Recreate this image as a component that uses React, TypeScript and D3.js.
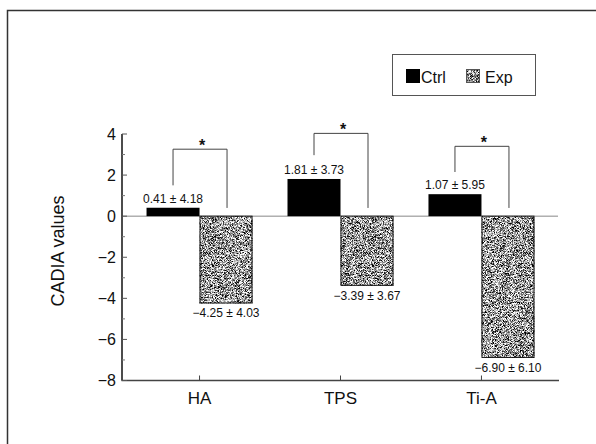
import React, { useEffect, useRef } from 'react';
import * as d3 from 'd3';

// Groups and series (CADIA values, mean ± SD)
const categories = ['HA', 'TPS', 'Ti-A'];
const ctrlMeans = [0.41, 1.81, 1.07];
const ctrlSD = [4.18, 3.73, 5.95];
const expMeans = [-4.25, -3.39, -6.9];
const expSD = [4.03, 3.67, 6.1];

// Significance brackets (in data units)
const bracketTop = [3.26, 4.03, 3.4];
const bracketLeftEnd = [1.5, 2.97, 2.15];
const bracketRightEnd = [0.4, 0.4, 0.4];

const yMajorTicks = [-8, -6, -4, -2, 0, 2, 4];
const yMinorTicks = [-7, -5, -3, -1, 1, 3];

const FONT = "'Liberation Sans', Arial, Helvetica, sans-serif";

const fmt = (v: number) => d3.format('.2f')(v);

const App = () => {
  const ref = useRef<SVGSVGElement>(null);

  useEffect(() => {
    const svg = d3.select(ref.current);
    svg.selectAll('*').remove();

    // Speckle texture for the Exp bars
    const defs = svg.append('defs');
    const filter = defs.append('filter')
      .attr('id', 'noise')
      .attr('x', 0).attr('y', 0).attr('width', '100%').attr('height', '100%')
      .attr('color-interpolation-filters', 'sRGB');
    filter.append('feTurbulence')
      .attr('type', 'fractalNoise')
      .attr('baseFrequency', 1.6)
      .attr('numOctaves', 2)
      .attr('seed', 7)
      .attr('result', 'n');
    filter.append('feColorMatrix')
      .attr('in', 'n')
      .attr('type', 'matrix')
      .attr('values', '3 0 0 0 -0.9  3 0 0 0 -0.9  3 0 0 0 -0.9  0 0 0 0 1')
      .attr('result', 'g');
    filter.append('feComposite')
      .attr('in', 'g').attr('in2', 'SourceGraphic').attr('operator', 'in');

    // Scales
    const x = d3.scaleBand<string>()
      .domain(categories)
      .range([122, 559])
      .paddingOuter(0.05)
      .paddingInner(0);
    const sub = d3.scaleBand<string>()
      .domain(['ctrl', 'exp'])
      .range([-53, 53]);
    const y = d3.scaleLinear().domain([-8, 4]).range([380.5, 134]);
    const cx = (c: string) => (x(c) as number) + x.bandwidth() / 2;

    // Figure frame (top and left visible)
    svg.append('path')
      .attr('d', 'M7.5,444 L7.5,10.5 L596,10.5')
      .attr('fill', 'none')
      .attr('stroke', '#333')
      .attr('stroke-width', 1.5);

    // Zero line
    svg.append('line')
      .attr('x1', 122).attr('x2', 558)
      .attr('y1', y(0)).attr('y2', y(0))
      .attr('stroke', '#888').attr('stroke-width', 1);

    // Ctrl bars
    svg.append('g')
      .selectAll('rect')
      .data(categories)
      .join('rect')
      .attr('x', (c) => cx(c) + (sub('ctrl') as number))
      .attr('width', sub.bandwidth())
      .attr('y', (c, i) => y(Math.max(0, ctrlMeans[i])))
      .attr('height', (c, i) => Math.abs(y(ctrlMeans[i]) - y(0)))
      .attr('fill', '#000');

    // Exp bars (texture + outline)
    const expG = svg.append('g');
    expG.selectAll('rect.tex')
      .data(categories)
      .join('rect')
      .attr('class', 'tex')
      .attr('x', (c) => cx(c) + (sub('exp') as number))
      .attr('width', sub.bandwidth())
      .attr('y', (c, i) => y(Math.max(0, expMeans[i])))
      .attr('height', (c, i) => Math.abs(y(expMeans[i]) - y(0)))
      .attr('fill', '#888')
      .attr('filter', 'url(#noise)');
    expG.selectAll('rect.out')
      .data(categories)
      .join('rect')
      .attr('class', 'out')
      .attr('x', (c) => cx(c) + (sub('exp') as number) + 0.5)
      .attr('width', sub.bandwidth() - 1)
      .attr('y', (c, i) => y(Math.max(0, expMeans[i])))
      .attr('height', (c, i) => Math.abs(y(expMeans[i]) - y(0)) - 0.5)
      .attr('fill', 'none')
      .attr('stroke', '#111')
      .attr('stroke-width', 1);

    // Axes
    svg.append('line')
      .attr('x1', 122).attr('x2', 122)
      .attr('y1', y(4)).attr('y2', y(-8))
      .attr('stroke', '#111').attr('stroke-width', 1.5);
    svg.append('line')
      .attr('x1', 121.5).attr('x2', 559)
      .attr('y1', y(-8)).attr('y2', y(-8))
      .attr('stroke', '#444').attr('stroke-width', 1.5);

    svg.append('g')
      .selectAll('line')
      .data(yMajorTicks)
      .join('line')
      .attr('x1', 122).attr('x2', 127)
      .attr('y1', (d) => y(d)).attr('y2', (d) => y(d))
      .attr('stroke', '#555').attr('stroke-width', 1);
    svg.append('g')
      .selectAll('line')
      .data(yMinorTicks)
      .join('line')
      .attr('x1', 122).attr('x2', 125)
      .attr('y1', (d) => y(d)).attr('y2', (d) => y(d))
      .attr('stroke', '#777').attr('stroke-width', 1);

    svg.append('g')
      .selectAll('text')
      .data(yMajorTicks)
      .join('text')
      .attr('x', 116)
      .attr('y', (d) => y(d))
      .attr('dy', '0.36em')
      .attr('text-anchor', 'end')
      .attr('font-family', FONT)
      .attr('font-size', 16)
      .attr('fill', '#111')
      .text((d) => d3.format('d')(d));

    svg.append('text')
      .attr('transform', `translate(64,${y(-1.7)}) rotate(-90)`)
      .attr('text-anchor', 'middle')
      .attr('font-family', FONT)
      .attr('font-size', 18)
      .attr('fill', '#111')
      .text('CADIA values');

    // X ticks & labels
    svg.append('g')
      .selectAll('line')
      .data(categories)
      .join('line')
      .attr('x1', (c) => cx(c)).attr('x2', (c) => cx(c))
      .attr('y1', y(-8)).attr('y2', y(-8) - 5)
      .attr('stroke', '#444').attr('stroke-width', 1);
    svg.append('g')
      .selectAll('text')
      .data(categories)
      .join('text')
      .attr('x', (c) => cx(c))
      .attr('y', 404)
      .attr('text-anchor', 'middle')
      .attr('font-family', FONT)
      .attr('font-size', 17)
      .attr('fill', '#111')
      .text((c) => c);

    // Value labels
    svg.append('g')
      .selectAll('text')
      .data(categories)
      .join('text')
      .attr('x', (c) => cx(c) + (sub('ctrl') as number) + sub.bandwidth() / 2)
      .attr('y', (c, i) => y(ctrlMeans[i]) - 5)
      .attr('text-anchor', 'middle')
      .attr('font-family', FONT)
      .attr('font-size', 12)
      .attr('fill', '#111')
      .text((c, i) => `${fmt(ctrlMeans[i])} \u00b1 ${fmt(ctrlSD[i])}`);
    svg.append('g')
      .selectAll('text')
      .data(categories)
      .join('text')
      .attr('x', (c) => cx(c) + (sub('exp') as number) + sub.bandwidth() / 2)
      .attr('y', (c, i) => y(expMeans[i]) + 14)
      .attr('text-anchor', 'middle')
      .attr('font-family', FONT)
      .attr('font-size', 12)
      .attr('fill', '#111')
      .text((c, i) => `${fmt(expMeans[i])} \u00b1 ${fmt(expSD[i])}`);

    // Significance brackets
    const bx1 = (c: string) => cx(c) + (sub('ctrl') as number) + sub.bandwidth() / 2;
    const bx2 = (c: string) => cx(c) + (sub('exp') as number) + sub.bandwidth() / 2 + 1;
    svg.append('g')
      .selectAll('path')
      .data(categories)
      .join('path')
      .attr('d', (c, i) =>
        `M${bx1(c)},${y(bracketLeftEnd[i])} L${bx1(c)},${y(bracketTop[i])} L${bx2(c)},${y(bracketTop[i])} L${bx2(c)},${y(bracketRightEnd[i])}`)
      .attr('fill', 'none')
      .attr('stroke', '#444')
      .attr('stroke-width', 1);
    svg.append('g')
      .selectAll('text')
      .data(categories)
      .join('text')
      .attr('x', (c) => (bx1(c) + bx2(c)) / 2 + 2)
      .attr('y', (c, i) => y(bracketTop[i]) + 2)
      .attr('text-anchor', 'middle')
      .attr('font-family', FONT)
      .attr('font-size', 16)
      .attr('font-weight', 'bold')
      .attr('fill', '#111')
      .text('*');

    // Legend
    const lg = svg.append('g');
    lg.append('rect')
      .attr('x', 392.5).attr('y', 54.5).attr('width', 143).attr('height', 41)
      .attr('fill', '#fff').attr('stroke', '#555').attr('stroke-width', 1);
    lg.append('rect')
      .attr('x', 406).attr('y', 69).attr('width', 14).attr('height', 14)
      .attr('fill', '#000');
    lg.append('text')
      .attr('x', 421).attr('y', 83)
      .attr('font-family', FONT).attr('font-size', 16).attr('fill', '#111')
      .text('Ctrl');
    lg.append('rect')
      .attr('x', 466).attr('y', 69).attr('width', 14).attr('height', 14)
      .attr('fill', '#888').attr('filter', 'url(#noise)');
    lg.append('rect')
      .attr('x', 466.5).attr('y', 69.5).attr('width', 13).attr('height', 13)
      .attr('fill', 'none').attr('stroke', '#555').attr('stroke-width', 1);
    lg.append('text')
      .attr('x', 485).attr('y', 83)
      .attr('font-family', FONT).attr('font-size', 16).attr('fill', '#111')
      .text('Exp');
  }, []);

  return (
    <svg
      ref={ref}
      width={596}
      height={444}
      style={{ position: 'absolute', left: 0, top: 0, display: 'block', background: '#fff' }}
    />
  );
};

export default App;
